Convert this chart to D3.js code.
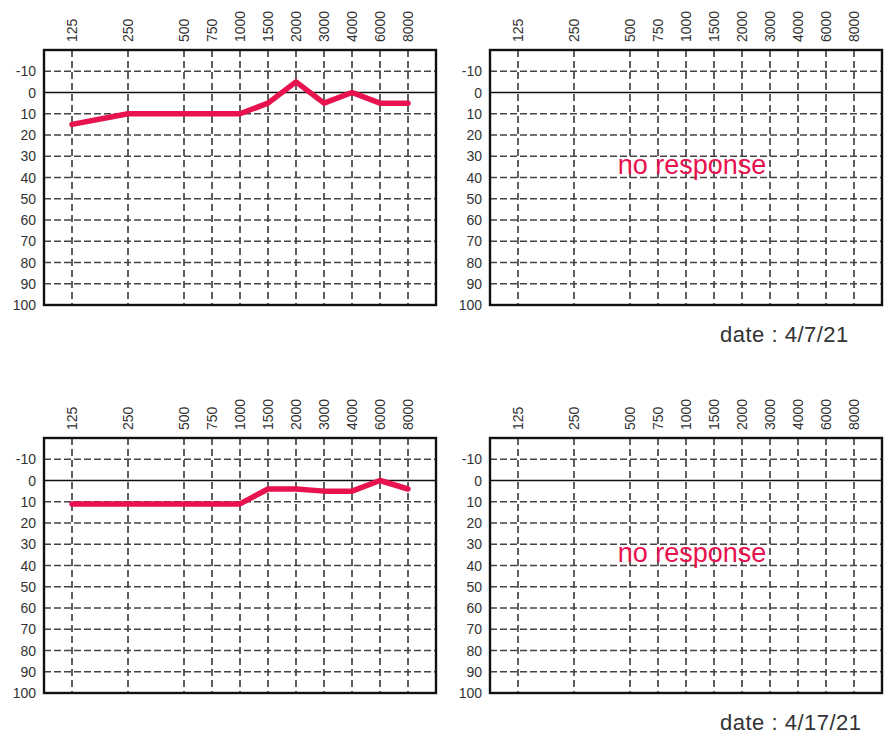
<!DOCTYPE html>
<html>
<head>
<meta charset="utf-8">
<script src="https://cdn.jsdelivr.net/npm/d3@7"></script>
<style>
  body { margin: 0; background: #fff; }
  svg { display: block; }
</style>
</head>
<body>
<svg id="svg" width="894" height="744"></svg>
<script>
// frequency columns (Hz) and their slot on the chart (125-250-500 are two slots apart)
const freqLabels = ["125", "250", "500", "750", "1000", "1500", "2000", "3000", "4000", "6000", "8000"];
const freqSlots = [0, 2, 4, 5, 6, 7, 8, 9, 10, 11, 12];
const levelTicks = [-10, 0, 10, 20, 30, 40, 50, 60, 70, 80, 90, 100];

// hearing level (dB) per frequency
const test1 = [15, 10, 10, 10, 10, 5, -5, 5, 0, 5, 5];
const test2 = [11, 11, 11, 11, 11, 4, 4, 5, 5, 0, 4];
const testDates = ["4/7/21", "4/17/21"];

const W = 392, H = 255;
const red = "#e8124f";

const x = d3.scaleLinear().domain([-1, 13]).range([0, W]);
const y = d3.scaleLinear().domain([-20, 100]).range([0, H]);

const svg = d3.select("#svg");

function drawGrid(g) {
    // vertical dashed lines
    g.selectAll(".vline").data(freqSlots).join("line")
        .attr("x1", d => x(d)).attr("x2", d => x(d))
        .attr("y1", 0).attr("y2", H)
        .style("stroke", "#444")
        .style("stroke-width", 1.7)
        .style("stroke-dasharray", "7, 4");

    // horizontal lines, 0 dB is solid
    g.selectAll(".hline").data(levelTicks.filter(d => d < 100)).join("line")
        .attr("x1", 0).attr("x2", W)
        .attr("y1", d => y(d)).attr("y2", d => y(d))
        .style("stroke", d => d === 0 ? "#111" : "#444")
        .style("stroke-width", d => d === 0 ? 1.3 : 1.7)
        .style("stroke-dasharray", d => d === 0 ? null : "7, 3");

    g.append("rect")
        .attr("width", W).attr("height", H)
        .style("fill", "none")
        .style("stroke", "#111")
        .style("stroke-width", 2.4);

    // level labels on the left
    g.selectAll(".ylab").data(levelTicks).join("text")
        .attr("x", -8)
        .attr("y", d => y(d))
        .attr("dy", "0.36em")
        .attr("text-anchor", "end")
        .style("font-family", "Liberation Sans, Arial, sans-serif")
        .style("font-size", "14px")
        .style("fill", "#333")
        .text(d => d);

    // rotated frequency labels on top
    g.selectAll(".xlab").data(freqSlots).join("text")
        .attr("transform", d => `translate(${x(d)},-8) rotate(-90)`)
        .attr("dy", "0.36em")
        .attr("text-anchor", "start")
        .style("font-family", "Liberation Sans, Arial, sans-serif")
        .style("font-size", "14px")
        .style("fill", "#333")
        .text((d, i) => freqLabels[i]);
}

const panels = [
    { left: 44, top: 50, values: test1 },
    { left: 490, top: 50, values: null, date: testDates[0] },
    { left: 44, top: 438, values: test2 },
    { left: 490, top: 438, values: null, date: testDates[1] }
];

const line = d3.line()
    .x((d, i) => x(freqSlots[i]))
    .y(d => y(d));

panels.forEach(p => {
    const g = svg.append("g").attr("transform", `translate(${p.left},${p.top})`);
    drawGrid(g);

    if (p.values) {
        g.append("path")
            .datum(p.values)
            .attr("d", line)
            .style("fill", "none")
            .style("stroke", red)
            .style("stroke-width", 5.5)
            .style("stroke-linejoin", "round")
            .style("stroke-linecap", "round");
    } else {
        g.append("text")
            .attr("x", 202)
            .attr("y", 124)
            .attr("text-anchor", "middle")
            .style("font-family", "Liberation Sans, Arial, sans-serif")
            .style("font-size", "27px")
            .style("fill", red)
            .text("no response");

        g.append("text")
            .attr("x", 230)
            .attr("y", 292)
            .style("font-family", "Liberation Sans, Arial, sans-serif")
            .style("font-size", "22px")
            .style("letter-spacing", "0.5px")
            .style("fill", "#333")
            .text("date : " + p.date);
    }
});
</script>
</body>
</html>
